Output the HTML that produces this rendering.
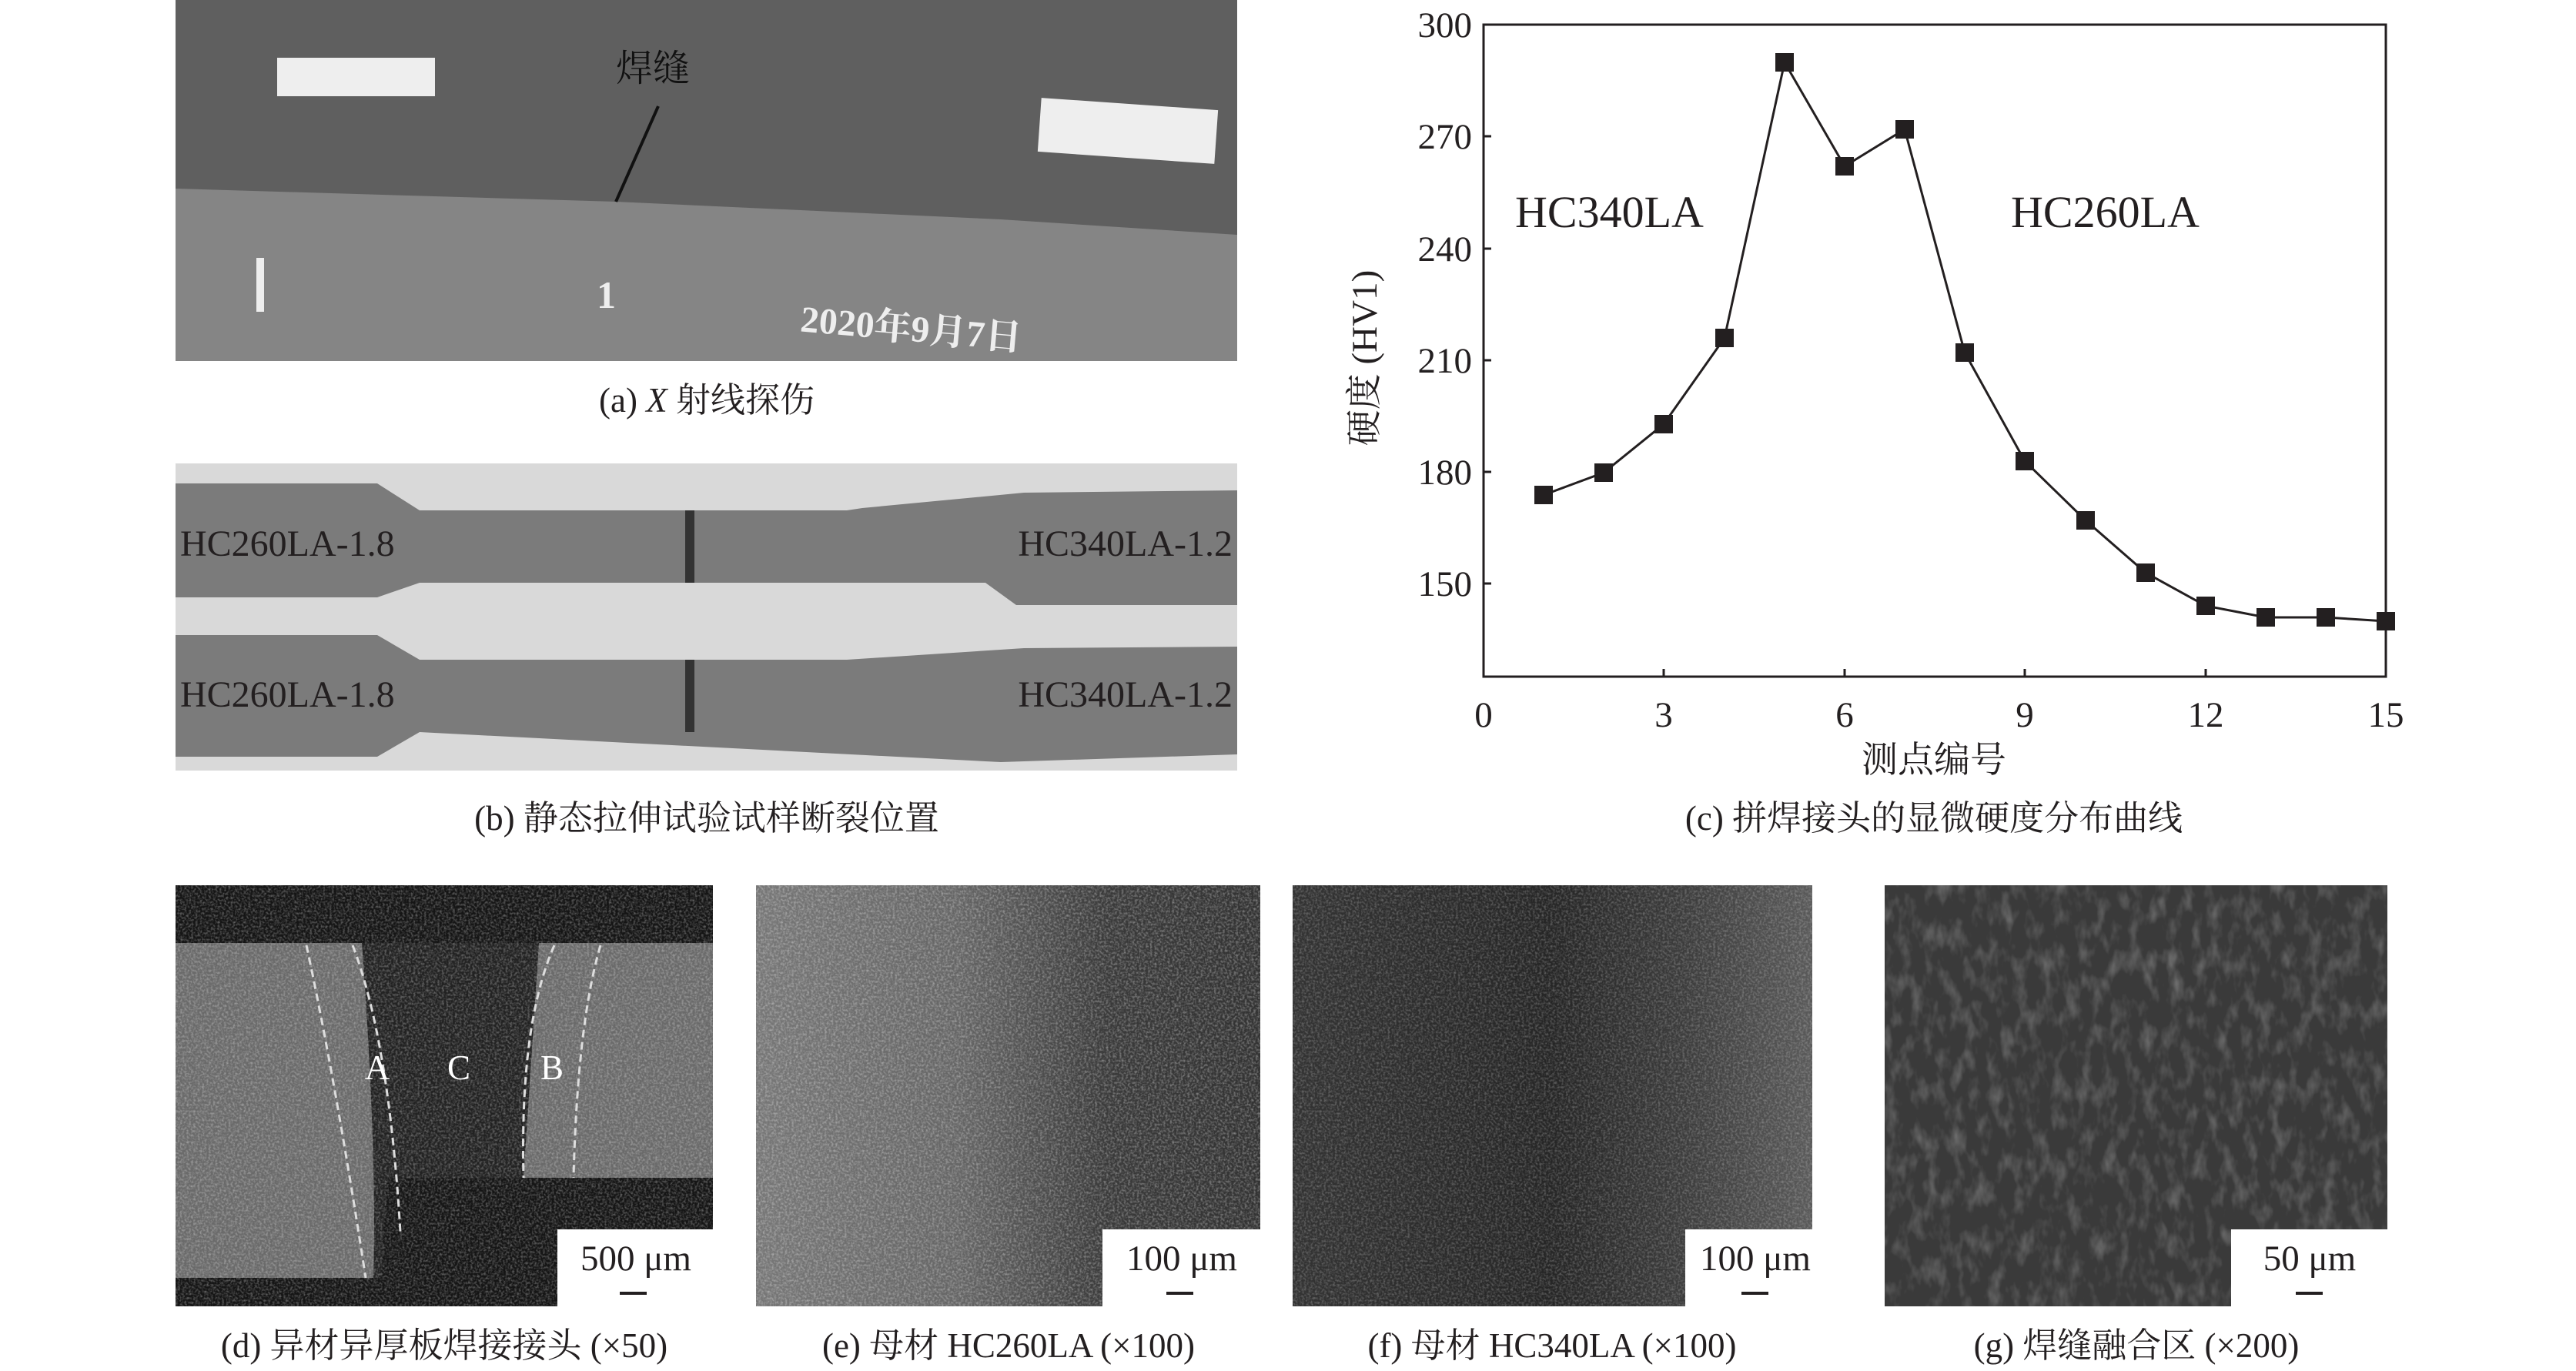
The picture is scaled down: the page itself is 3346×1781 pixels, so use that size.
<!DOCTYPE html>
<html><head><meta charset="utf-8"><style>
html,body{margin:0;padding:0;background:#fff;}
svg{display:block;}
text{font-family:"Liberation Serif","Noto Serif CJK SC",serif;fill:#231f20;}
</style></head><body>
<svg width="3346" height="1781" viewBox="0 0 3346 1781" xmlns="http://www.w3.org/2000/svg">
<defs>
<filter id="noise" x="0" y="0" width="100%" height="100%">
<feTurbulence type="fractalNoise" baseFrequency="0.35" numOctaves="2" seed="3" result="t"/>
<feColorMatrix type="matrix" values="0 0 0 0 1  0 0 0 0 1  0 0 0 0 1  1.4 0 0 0 -0.55" in="t" result="n"/>
<feComposite in="n" in2="SourceGraphic" operator="in"/>
</filter>
<filter id="noise2" x="0" y="0" width="100%" height="100%">
<feTurbulence type="fractalNoise" baseFrequency="0.06 0.03" numOctaves="3" seed="7" result="t"/>
<feColorMatrix type="matrix" values="0 0 0 0 1  0 0 0 0 1  0 0 0 0 1  1.2 0 0 0 -0.55" in="t" result="n"/>
<feComposite in="n" in2="SourceGraphic" operator="in"/>
</filter>
<linearGradient id="ge" x1="0" y1="0" x2="1" y2="0">
<stop offset="0" stop-color="#777"/><stop offset="0.4" stop-color="#666"/><stop offset="0.7" stop-color="#3a3a3a"/><stop offset="1" stop-color="#333"/>
</linearGradient>
<linearGradient id="gf" x1="0" y1="0" x2="1" y2="0">
<stop offset="0" stop-color="#333"/><stop offset="0.5" stop-color="#262626"/><stop offset="0.75" stop-color="#3c3c3c"/><stop offset="1" stop-color="#5a5a5a"/>
</linearGradient>
</defs>

<!-- (a) -->
<rect x="228" y="0" width="1379" height="469" fill="#5f5f5f"/>
<path d="M228 245 L800 262 L1300 285 L1607 305 L1607 469 L228 469 Z" fill="#858585"/>
<rect x="360" y="75" width="205" height="50" fill="#eee"/>
<rect x="1350" y="135" width="230" height="70" fill="#eee" transform="rotate(4 1465 170)"/>
<rect x="333" y="335" width="10" height="70" fill="#eee"/>
<text x="775" y="400" font-size="50" font-family="Liberation Sans" font-weight="bold" style="fill:#eee">1</text>
<text x="1040" y="440" font-size="48" font-family="Liberation Sans" font-weight="bold" style="fill:#eee" transform="rotate(5 1150 420)">2020年9月7日</text>
<text x="800" y="105" font-size="48" style="fill:#111">焊缝</text>
<line x1="855" y1="138" x2="800" y2="262" stroke="#111" stroke-width="4"/>
<text x="918" y="535" font-size="45" text-anchor="middle">(a) <tspan font-style="italic">X</tspan> 射线探伤</text>

<!-- (b) -->
<rect x="228" y="602" width="1379" height="399" fill="#d9d9d9"/>
<path d="M228 628 L490 628 L545 663 L1100 663 L1120 660 L1330 640 L1607 637 L1607 786 L1320 786 L1280 757 L545 757 L490 776 L228 776Z" fill="#7b7b7b"/>
<path d="M228 825 L490 825 L545 857 L1100 857 L1330 842 L1607 840 L1607 980 L1300 990 L545 951 L490 983 L228 983Z" fill="#7b7b7b"/>
<rect x="890" y="663" width="12" height="94" fill="#333"/>
<rect x="890" y="857" width="12" height="94" fill="#333"/>
<text x="234" y="722" font-size="48">HC260LA-1.8</text>
<text x="1601" y="722" font-size="48" text-anchor="end">HC340LA-1.2</text>
<text x="234" y="918" font-size="48">HC260LA-1.8</text>
<text x="1601" y="918" font-size="48" text-anchor="end">HC340LA-1.2</text>
<text x="918" y="1078" font-size="45" text-anchor="middle">(b) 静态拉伸试验试样断裂位置</text>

<!-- (c) chart -->
<g stroke="#231f20" stroke-width="3" fill="none">
<rect x="1927" y="32" width="1172" height="847"/>
<line x1="1927" y1="177" x2="1937" y2="177"/>
<line x1="1927" y1="323" x2="1937" y2="323"/>
<line x1="1927" y1="468" x2="1937" y2="468"/>
<line x1="1927" y1="613" x2="1937" y2="613"/>
<line x1="1927" y1="758" x2="1937" y2="758"/>
<line x1="2161" y1="879" x2="2161" y2="869"/>
<line x1="2396" y1="879" x2="2396" y2="869"/>
<line x1="2630" y1="879" x2="2630" y2="869"/>
<line x1="2865" y1="879" x2="2865" y2="869"/>
<polyline stroke-width="3" points="2005,643 2083,614 2161,551 2240,439 2318,81 2396,216 2474,168 2552,458 2630,599 2709,676 2787,744 2865,787 2943,802 3021,802 3099,807"/>
</g>
<g fill="#231f20">
<rect x="1993" y="631" width="24" height="24"/><rect x="2071" y="602" width="24" height="24"/><rect x="2149" y="539" width="24" height="24"/><rect x="2228" y="427" width="24" height="24"/><rect x="2306" y="69" width="24" height="24"/><rect x="2384" y="204" width="24" height="24"/><rect x="2462" y="156" width="24" height="24"/><rect x="2540" y="446" width="24" height="24"/><rect x="2618" y="587" width="24" height="24"/><rect x="2697" y="664" width="24" height="24"/><rect x="2775" y="732" width="24" height="24"/><rect x="2853" y="775" width="24" height="24"/><rect x="2931" y="790" width="24" height="24"/><rect x="3009" y="790" width="24" height="24"/><rect x="3087" y="795" width="24" height="24"/>
</g>
<g font-size="47" text-anchor="end">
<text x="1912" y="48">300</text><text x="1912" y="193">270</text><text x="1912" y="339">240</text><text x="1912" y="484">210</text><text x="1912" y="629">180</text><text x="1912" y="774">150</text>
</g>
<g font-size="47" text-anchor="middle">
<text x="1927" y="944">0</text><text x="2161" y="944">3</text><text x="2396" y="944">6</text><text x="2630" y="944">9</text><text x="2865" y="944">12</text><text x="3099" y="944">15</text>
</g>
<text x="2512" y="1003" font-size="47" text-anchor="middle">测点编号</text>
<text x="0" y="0" font-size="47" text-anchor="middle" transform="translate(1788 465) rotate(-90)">硬度 (HV1)</text>
<text x="1968" y="295" font-size="58">HC340LA</text>
<text x="2612" y="295" font-size="58">HC260LA</text>
<text x="2512" y="1078" font-size="45" text-anchor="middle">(c) 拼焊接头的显微硬度分布曲线</text>

<!-- (d) -->
<rect x="228" y="1150" width="698" height="547" fill="#151515"/>
<path d="M228 1225 L926 1225 L926 1530 L502 1530 L495 1660 L228 1660Z" fill="#6a6a6a"/>
<path d="M470 1225 L700 1225 L680 1530 L502 1530 L495 1660 L485 1660 Q490 1500 470 1225Z" fill="#222"/>
<rect x="228" y="1150" width="698" height="547" fill="#888" filter="url(#noise)" opacity="0.5"/>
<g stroke="#ddd" stroke-width="3" stroke-dasharray="10 6" fill="none">
<path d="M398 1228 Q435 1400 475 1660"/><path d="M458 1228 Q505 1350 520 1600"/><path d="M720 1228 Q675 1330 680 1530"/><path d="M780 1228 Q750 1330 745 1530"/>
</g>
<text x="490" y="1402" font-size="45" text-anchor="middle" style="fill:#fff">A</text>
<text x="596" y="1402" font-size="45" text-anchor="middle" style="fill:#fff">C</text>
<text x="717" y="1402" font-size="45" text-anchor="middle" style="fill:#fff">B</text>

<!-- (e) -->
<rect x="982" y="1150" width="655" height="547" fill="url(#ge)"/>
<rect x="982" y="1150" width="655" height="547" fill="#999" filter="url(#noise)" opacity="0.55"/>
<!-- (f) -->
<rect x="1679" y="1150" width="675" height="547" fill="url(#gf)"/>
<rect x="1679" y="1150" width="675" height="547" fill="#888" filter="url(#noise)" opacity="0.4"/>
<!-- (g) -->
<rect x="2448" y="1150" width="653" height="547" fill="#3a3a3a"/>
<rect x="2448" y="1150" width="653" height="547" fill="#999" filter="url(#noise2)" opacity="0.45"/>

<!-- scale boxes -->
<g fill="#fff">
<rect x="724" y="1597" width="202" height="100"/>
<rect x="1432" y="1597" width="205" height="100"/>
<rect x="2189" y="1597" width="165" height="100"/>
<rect x="2898" y="1597" width="203" height="100"/>
</g>
<g font-size="47" text-anchor="middle">
<text x="826" y="1650">500 μm</text>
<text x="1535" y="1650">100 μm</text>
<text x="2280" y="1650">100 μm</text>
<text x="3000" y="1650">50 μm</text>
</g>
<g stroke="#231f20" stroke-width="4">
<line x1="805" y1="1680" x2="840" y2="1680"/><line x1="1515" y1="1680" x2="1550" y2="1680"/><line x1="2262" y1="1680" x2="2297" y2="1680"/><line x1="2982" y1="1680" x2="3017" y2="1680"/>
</g>
<g font-size="45" text-anchor="middle">
<text x="577" y="1763">(d) 异材异厚板焊接接头 (×50)</text>
<text x="1310" y="1763">(e) 母材 HC260LA (×100)</text>
<text x="2016" y="1763">(f) 母材 HC340LA (×100)</text>
<text x="2775" y="1763">(g) 焊缝融合区 (×200)</text>
</g>
</svg>
</body></html>
